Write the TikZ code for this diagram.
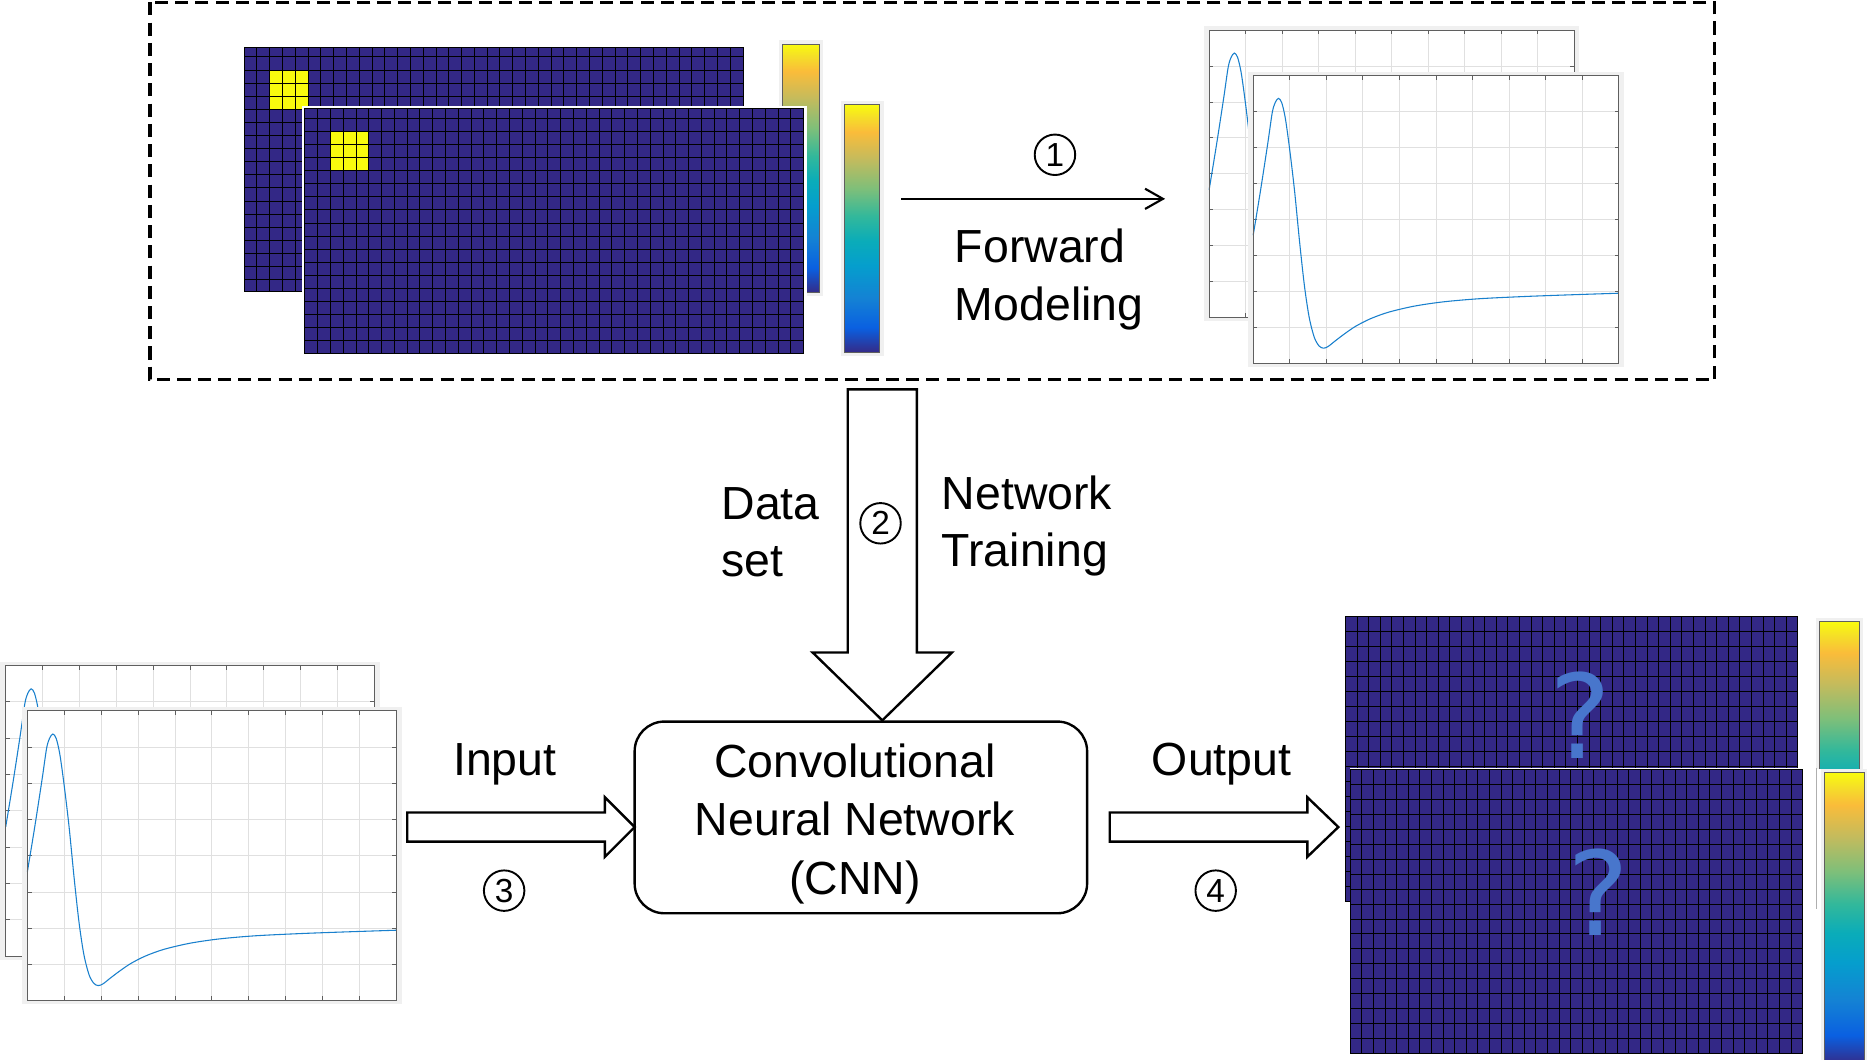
\documentclass[tikz,border=0pt]{standalone}
\usepackage{fontspec}
\setmainfont{Liberation Sans}
\newfontfamily\qfont{DejaVu Sans}
\usetikzlibrary{arrows.meta,calc}

\definecolor{gridfill}{RGB}{51,40,134}
\definecolor{patchyel}{RGB}{249,251,14}
\definecolor{panelgray}{RGB}{240,240,240}
\definecolor{plotgridc}{RGB}{224,224,224}
\definecolor{axisc}{RGB}{95,95,95}
\definecolor{curvec}{RGB}{25,128,205}
\definecolor{qblue}{RGB}{72,118,204}
\definecolor{pa0}{RGB}{53,42,135}
\definecolor{pa1}{RGB}{10,96,225}
\definecolor{pa2}{RGB}{20,130,212}
\definecolor{pa3}{RGB}{5,158,205}
\definecolor{pa4}{RGB}{10,172,185}
\definecolor{pa5}{RGB}{50,184,155}
\definecolor{pa6}{RGB}{125,191,122}
\definecolor{pa7}{RGB}{195,187,93}
\definecolor{pa8}{RGB}{250,188,58}
\definecolor{pa9}{RGB}{245,222,40}
\definecolor{pa10}{RGB}{249,251,14}

\pgfdeclareverticalshading{parula}{100bp}{color(0bp)=(pa0); color(25bp)=(pa0); color(30bp)=(pa1); color(36bp)=(pa2); color(42.5bp)=(pa3); color(47.5bp)=(pa4); color(52.5bp)=(pa5); color(58bp)=(pa6); color(64bp)=(pa7); color(69.5bp)=(pa8); color(72.5bp)=(pa9); color(75bp)=(pa10); color(100bp)=(pa10)}

\tikzset{
  dashbox/.style={line width=2.6pt, dash pattern=on 11pt off 6pt},
  gridln/.style={black, line width=0.8pt},
  plotgridln/.style={plotgridc, line width=0.7pt},
  tickln/.style={axisc, line width=0.7pt},
  axisln/.style={axisc, line width=0.9pt},
  curveln/.style={curvec, line width=0.9pt},
  cbframe/.style={axisc, line width=0.8pt},
  blockarrow/.style={draw=black, fill=white, line width=2pt, line join=miter},
  fmarrow/.style={line width=1.8pt, -{Straight Barb[length=15pt,width=17pt,line width=1.8pt]}},
  cnnbox/.style={draw=black, line width=2pt, rounded corners=25pt, minimum width=380pt, minimum height=161pt, inner sep=0pt},
  txt/.style={font=\fontsize{39}{47}\selectfont, inner sep=0pt, outer sep=0pt},
  circ/.style={circle, draw=black, line width=1.6pt, minimum size=34pt, inner sep=0pt, outer sep=0pt, font=\fontsize{28}{28}\selectfont},
  qmark/.style={font=\qfont\fontsize{98}{98}\selectfont, text=qblue, inner sep=0pt}
}

% grid image: x0 y0 w h ncols rowoffset rowstep extra
\newcommand{\gridimg}[8]{%
  \fill[gridfill] (#1,#2) rectangle ({#1+#3},{#2+#4});
  #8
  \pgfmathsetmacro{\gcw}{#3/#5}%
  \pgfmathtruncatemacro{\gnc}{#5-1}%
  \foreach \i in {1,...,\gnc} {\draw[gridln] ({#1+\i*\gcw},#2) -- ({#1+\i*\gcw},{#2+#4});}
  \pgfmathtruncatemacro{\gnr}{floor((#4-#6-0.5)/#7)}%
  \foreach \j in {0,...,\gnr} {\draw[gridln] (#1,{#2+#6+\j*#7}) -- ({#1+#3},{#2+#6+\j*#7});}
  \draw[gridln] (#1,#2) rectangle ({#1+#3},{#2+#4});
}

% colour bar: x0 y0 w h
\newcommand{\cbar}[4]{%
  \fill[panelgray] ({#1-3},{#2-3}) rectangle ({#1+#3+3},{#2+#4+3});
  \shade[shading=parula] (#1,#2) rectangle ({#1+#3},{#2+#4});
  \draw[cbframe] (#1,#2) rectangle ({#1+#3},{#2+#4});
}

% plot image: axes x0 y0 w h
\newcommand{\plotimg}[4]{%
  \fill[panelgray] ({#1-4.5},{#2-3.2}) rectangle ({#1+#3+4.5},{#2+#4+3.2});
  \fill[white] (#1,#2) rectangle ({#1+#3},{#2+#4});
  \foreach \k in {1,...,9} {\draw[plotgridln] ({#1+\k*#3/10},#2) -- ({#1+\k*#3/10},{#2+#4});}
  \foreach \k in {1,...,7} {\draw[plotgridln] (#1,{#2+\k*#4/8}) -- ({#1+#3},{#2+\k*#4/8});}
  \foreach \k in {1,...,9} {\draw[tickln] ({#1+\k*#3/10},#2) -- ++(0,3.5); \draw[tickln] ({#1+\k*#3/10},{#2+#4}) -- ++(0,-3.5);}
  \foreach \k in {1,...,7} {\draw[tickln] (#1,{#2+\k*#4/8}) -- ++(3.5,0); \draw[tickln] ({#1+#3},{#2+\k*#4/8}) -- ++(-3.5,0);}
  \begin{scope}[shift={(#1,#2)}, xscale=#3, yscale=#4]
    \draw[curveln] plot[smooth, tension=0.5] coordinates {(0,0.555) (0.02,0.40) (0.04,0.235) (0.052,0.13) (0.060,0.095) (0.069,0.080) (0.078,0.095) (0.088,0.15) (0.10,0.26) (0.113,0.40) (0.127,0.58) (0.14,0.73) (0.153,0.84) (0.167,0.91) (0.18,0.94) (0.192,0.948) (0.205,0.942) (0.225,0.922) (0.25,0.898) (0.28,0.872) (0.32,0.846) (0.37,0.823) (0.44,0.802) (0.52,0.787) (0.62,0.776) (0.75,0.768) (0.88,0.762) (1,0.757)};
  \end{scope}
  \draw[axisln] (#1,#2) rectangle ({#1+#3},{#2+#4});
}

\begin{document}
\begin{tikzpicture}[x=1pt,y=-1pt]
\useasboundingbox (0,0) rectangle (1568,890);
\fill[white] (0,0) rectangle (1568,890);

% ---------- simulation box ----------
\draw[dashbox] (126,2) rectangle (1440,319);

% models (top left)
\gridimg{205}{40}{419}{205}{39}{7.8}{11}{\fill[patchyel] (226.5,58.8) rectangle (258.7,91.8);}
\cbar{657}{37}{31}{209}
\fill[white] (253.5,89) rectangle (677.5,298.5);
\gridimg{256}{91.5}{419}{205}{39}{7.8}{11}{\fill[patchyel] (277.5,110.3) rectangle (309.7,143.3);}
\cbar{709}{88}{30}{208}

% responses (top right)
\plotimg{1015.5}{25.3}{306.5}{241.3}
\plotimg{1052.5}{63.3}{307}{241.7}

% forward modelling arrow
\coordinate (fmA) at (757,167);
\coordinate (fmB) at (978.5,167);
\draw[fmarrow] (fmA) -- (fmB);
\node[circ] (c1) at (886,130) {1};
\node[txt, anchor=base west] (fwd) at (802,220.5) {Forward};
\node[txt, anchor=base west] (mdl) at (802,269) {Modeling};

% ---------- training arrow ----------
\coordinate (dtop) at (741,327);
\coordinate (dtip) at (741,605);
\draw[blockarrow] ($(dtop)+(-29,0)$) -- ($(dtop)+(29,0)$) -- ($(dtip)+(29,-57)$) -- ($(dtip)+(58.5,-57)$) -- (dtip) -- ($(dtip)+(-58.5,-57)$) -- ($(dtip)+(-29,-57)$) -- cycle;
\node[txt, anchor=base west] (data) at (606,436) {Data};
\node[txt, anchor=base west] (dset) at (606,484) {set};
\node[txt, anchor=base west] (netw) at (791,428) {Network};
\node[txt, anchor=base west] (trn) at (791,476) {Training};
\node[circ] (c2) at (739.5,439.5) {2};

% ---------- CNN ----------
\node[cnnbox] (cnn) at (723,686.5) {};
\node[txt, anchor=base] (cnn1) at (718,653) {Convolutional};
\node[txt, anchor=base] (cnn2) at (718,702) {Neural Network};
\node[txt, anchor=base] (cnn3) at (718,751) {(CNN)};

% input arrow
\coordinate (inA) at (342,694.6);
\coordinate (inB) at (533,694.6);
\draw[blockarrow] ($(inA)+(0,-12.25)$) -- ($(inB)+(-25,-12.25)$) -- ($(inB)+(-25,-25)$) -- (inB) -- ($(inB)+(-25,25)$) -- ($(inB)+(-25,12.25)$) -- ($(inA)+(0,12.25)$) -- cycle;
\node[txt, anchor=base] (inp) at (424,651) {Input};
\node[circ] (c3) at (423.4,748) {3};

% output arrow
\coordinate (outA) at (932,694.6);
\coordinate (outB) at (1124,694.6);
\draw[blockarrow] ($(outA)+(0,-12.25)$) -- ($(outB)+(-26,-12.25)$) -- ($(outB)+(-26,-25)$) -- (outB) -- ($(outB)+(-26,25)$) -- ($(outB)+(-26,12.25)$) -- ($(outA)+(0,12.25)$) -- cycle;
\node[txt, anchor=base] (outp) at (1026,651) {Output};
\node[circ] (c4) at (1021,748) {4};

% ---------- input responses (bottom left) ----------
\plotimg{4.8}{559}{309.6}{244}
\plotimg{23}{597}{309.8}{243.4}

% ---------- predicted models (bottom right) ----------
\gridimg{1130}{518}{380}{239}{39}{12.58}{12.58}{}
\node[qmark] (q1) at (1327,601) {?};
\begin{scope}
  \clip (1520,510) rectangle (1570,645.5);
  \cbar{1528}{522}{33.5}{241}
\end{scope}
\draw[axisc!50, line width=0.8pt] (1525.5,645) -- (1525.5,763);
\gridimg{1134}{646}{380}{239}{39}{12.58}{12.58}{}
\draw[white, line width=1.2pt] (1134,645.4) -- (1514,645.4);
\node[qmark] (q2) at (1342.5,749) {?};
\cbar{1532}{649}{34}{245}
\end{tikzpicture}
\end{document}
